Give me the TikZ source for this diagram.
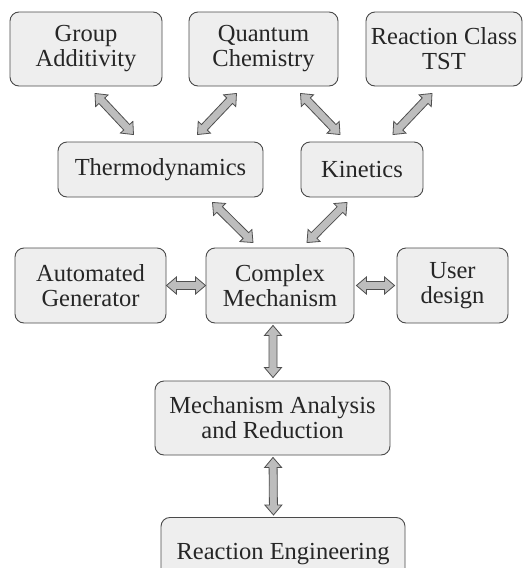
\documentclass[tikz,border=0pt]{standalone}
\usepackage{fontspec}
\setmainfont{Liberation Serif}
\usetikzlibrary{calc}
\definecolor{boxfill}{HTML}{EEEEEE}
\definecolor{boxline}{HTML}{4A4A4A}
\definecolor{arrfill}{HTML}{BDBDBD}
\definecolor{arrline}{HTML}{4F4F4F}
\tikzset{
  box/.style={draw=boxline, fill=boxfill, line width=0.9pt, rounded corners=9pt,
    align=center, inner sep=0pt, font=\fontsize{24.5}{25}\selectfont, text=black!85},
  barrow/.style={draw=arrline, fill=arrfill, line width=0.8pt, line join=miter,
    to path={
      (\tikztostart)
      -- ($(\tikztostart)!10pt!(\tikztotarget)!8.5pt!90:(\tikztotarget)$)
      -- ($(\tikztostart)!10pt!(\tikztotarget)!4pt!90:(\tikztotarget)$)
      -- ($(\tikztotarget)!10pt!(\tikztostart)!4pt!-90:(\tikztostart)$)
      -- ($(\tikztotarget)!10pt!(\tikztostart)!8.5pt!-90:(\tikztostart)$)
      -- (\tikztotarget)
      -- ($(\tikztotarget)!10pt!(\tikztostart)!8.5pt!90:(\tikztostart)$)
      -- ($(\tikztotarget)!10pt!(\tikztostart)!4pt!90:(\tikztostart)$)
      -- ($(\tikztostart)!10pt!(\tikztotarget)!4pt!-90:(\tikztotarget)$)
      -- ($(\tikztostart)!10pt!(\tikztotarget)!8.5pt!-90:(\tikztotarget)$)
      -- cycle}}
}
\begin{document}
\begin{tikzpicture}[x=1pt,y=-1pt]
\useasboundingbox (0,0) rectangle (523,568);
\clip (0,0) rectangle (523,568);
\fill[white] (0,0) rectangle (523,568);
% top row
\node[box, minimum width=152pt, minimum height=74pt] (ga) at (86,49) {\raisebox{-2pt}{Group}\\\raisebox{-2pt}{Additivity}};
\node[box, minimum width=149pt, minimum height=74pt] (qc) at (263.5,49) {\raisebox{-2pt}{Quantum}\\\raisebox{-2pt}{Chemistry}};
\node[box, minimum width=156pt, minimum height=74pt] (rc) at (444,49) {\raisebox{-2pt}{Reaction Class}\\\raisebox{-2pt}{TST}};
% second row
\node[box, minimum width=205pt, minimum height=55pt] (th) at (160.5,169.5) {Thermodynamics};
\node[box, minimum width=122pt, minimum height=55pt] (ki) at (362,169.5) {Kinetics};
% third row
\node[box, minimum width=151pt, minimum height=75pt] (ag) at (90.5,285.5) {\raisebox{-2pt}{Automated}\\\raisebox{-2pt}{Generator}};
\node[box, minimum width=148pt, minimum height=75pt] (cm) at (280,285.5) {\raisebox{-2pt}{Complex}\\\raisebox{-2pt}{Mechanism}};
\node[box, minimum width=111pt, minimum height=75pt] (ud) at (452.5,285.5) {\raisebox{-2pt}{User}\\\raisebox{-2pt}{design}};
% lower
\node[box, minimum width=235pt, minimum height=74pt] (ma) at (272.5,418) {Mechanism Analysis\\and Reduction};
\node[box, minimum width=244pt, minimum height=74pt, anchor=north] (re) at (283,517) {\raisebox{-12pt}{Reaction Engineering}};
% arrows
\draw[barrow] ($(ga.south)+(9,7)$) to ($(th.north)+(-27,-7)$);
\draw[barrow] ($(qc.south)+(-27,7)$) to ($(th.north)+(37,-7)$);
\draw[barrow] ($(qc.south)+(37,7)$) to ($(ki.north)+(-22,-7)$);
\draw[barrow] ($(rc.south)+(-12,7)$) to ($(ki.north)+(31,-7)$);
\draw[barrow] ($(th.south)+(52,5)$) to ($(cm.north)+(-27,-5)$);
\draw[barrow] ($(ki.south)+(-15,5)$) to ($(cm.north)+(27,-5)$);
\draw[barrow] (ag.east) to (cm.west);
\draw[barrow] ($(cm.east)+(2,0)$) to ($(ud.west)+(-2,0)$);
\draw[barrow] ($(cm.south)+(-7,2)$) to ($(ma.north)+(0.5,-3)$);
\draw[barrow] ($(ma.south)+(0.5,2)$) to ($(re.north)+(-9.5,-2)$);
\end{tikzpicture}
\end{document}
